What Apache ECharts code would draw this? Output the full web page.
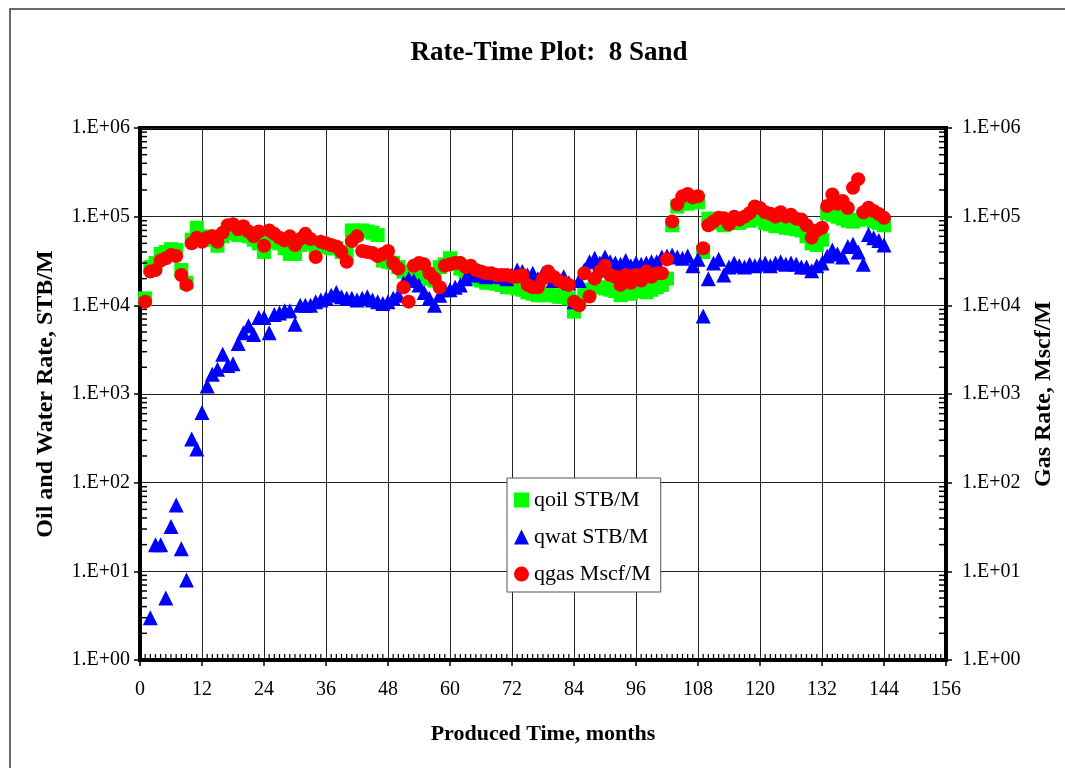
<!DOCTYPE html>
<html>
<head>
<meta charset="utf-8">
<title>Rate-Time Plot: 8 Sand</title>
<script src="https://cdn.jsdelivr.net/npm/echarts@6/dist/echarts.min.js"></script>
<style>
  html, body { margin: 0; padding: 0; background: #fff; }
  #chart { width: 1065px; height: 768px; }
</style>
</head>
<body>
<div id="chart"></div>
<script>
// Monthly production rates, 8 Sand. Index 0 is produced month 1.
const firstMonth = 1;

const qoil = [
  12000, 27000, 30000, 38000, 40000, 43000, 42000, 25000, 18000, 55000, 75000, 55000,
  60000, 55000, 47000, 60000, 72000, 65000, 62000, 66000, 60000, 55000, 50000, 40000,
  52000, 55000, 50000, 44000, 38000, 38000, 48000, 55000, 50000, 45000, 48000, 46000,
  44000, 44000, 40000, 38000, 70000, 64000, 70000, 68000, 66000, 62000, 32000, 31000,
  30000, 27000, 24000, 22000, 24000, 23000, 22000, 20000, 19000, 27000, 29000, 34000,
  30000, 26000, 24000, 22000, 20000, 19000, 18000, 18000, 17500, 17000, 16000, 16000,
  15500, 15000, 14000, 13500, 13000, 13000, 14000, 13000, 12500, 12500, 12000, 8500,
  11000, 13000, 15000, 17000, 16000, 15500, 15000, 14500, 13000, 14000, 13500, 15000,
  14500, 14000, 15000, 16000, 17000, 20000, 80000, 130000, 150000, 140000, 150000, 145000,
  40000, 95000, 90000, 85000, 80000, 90000, 88000, 85000, 95000, 90000, 100000, 95000,
  85000, 82000, 78000, 80000, 75000, 74000, 72000, 70000, 60000, 50000, 48000, 55000,
  110000, 105000, 100000, 95000, 90000, 88000, 92000, 100000, 95000, 88000, 85000, 80000
];

const qwat = [
  null, 3, 20, 20, 5, 32, 56, 18, 8, 310, 240, 620,
  1230, 1670, 1900, 2800, 2100, 2200, 3700, 4900, 5900, 4700, 7300, 7300,
  4900, 7900, 8200, 8700, 8700, 6100, 10000, 10000, 10000, 11000, 11500, 12000,
  13000, 14000, 12500, 12000, 12000, 11500, 12000, 12500, 11500, 11000, 10500, 11000,
  12000, 13000, 18000, 20000, 19000, 17000, 14000, 12000, 10000, 13000, 15000, 15000,
  16000, 17000, 20000, 22000, 23000, 22000, 21000, 21500, 22000, 21000, 20000, 22000,
  25000, 24000, 22000, 23000, 20000, 23000, 22000, 19000, 20000, 21000, 18000, 11000,
  19000, 25000, 31000, 34000, 30000, 35000, 31000, 30000, 29000, 32000, 28000, 30000,
  29000, 30000, 31000, 31000, 35000, 36000, 37000, 35000, 34000, 36000, 28000, 33000,
  7600, 20000, 30000, 33000, 22000, 27000, 30000, 28000, 27000, 29000, 28000, 29000,
  30000, 28000, 30000, 31000, 29000, 30000, 29000, 27000, 27000, 24500, 28000, 30000,
  36000, 42000, 38000, 35000, 46000, 49000, 40000, 29000, 63000, 58000, 54000, 48000
];

const qgas = [
  11000, 24000, 25000, 32000, 34000, 37000, 36000, 22000, 17000, 50000, 58000, 52000,
  58000, 60000, 52000, 66000, 80000, 82000, 72000, 78000, 68000, 60000, 68000, 47000,
  70000, 64000, 58000, 54000, 60000, 48000, 56000, 64000, 56000, 35000, 52000, 50000,
  48000, 46000, 40000, 31000, 53000, 60000, 41000, 40000, 39000, 36000, 38000, 41000,
  30000, 26000, 16000, 11000, 28000, 30000, 29000, 23000, 20000, 16000, 28000, 29000,
  30000, 30000, 27000, 28000, 25000, 24000, 23000, 23000, 22000, 22000, 22000, 21000,
  21000, 22000, 17000, 16000, 16000, 20000, 24000, 21000, 19000, 18000, 17000, 11000,
  10000, 23000, 12600, 20000, 24000, 28000, 22000, 21000, 17000, 22000, 18000, 22000,
  19000, 24000, 21000, 23000, 23000, 33000, 88000, 138000, 170000, 180000, 165000, 170000,
  44000, 80000, 88000, 97000, 96000, 82000, 100000, 93000, 100000, 110000, 130000, 125000,
  112000, 108000, 100000, 112000, 100000, 105000, 95000, 93000, 80000, 58000, 70000, 75000,
  132000, 178000, 140000, 150000, 125000, 212000, 265000, 112000, 126000, 116000, 107000, 97000
];

const seriesNames = ['qoil STB/M', 'qwat STB/M', 'qgas Mscf/M'];
const rateTickLabels = ['1.E+00', '1.E+01', '1.E+02', '1.E+03', '1.E+04', '1.E+05', '1.E+06'];
const monthAxis = { min: 0, max: 156, step: 12 };

const serif = '"Liberation Serif", "Times New Roman", serif';

function toPoints(values) {
  const pts = [];
  values.forEach((v, i) => { if (v != null) pts.push([firstMonth + i, v]); });
  return pts;
}

function rateLabel(v) {
  const e = Math.round(Math.log10(v));
  return rateTickLabels[e] !== undefined ? rateTickLabels[e] : '';
}

// Minor tick marks: log-spaced 2..9 per decade on both rate axes, monthly on the time axis.
const minorTicks = [];
for (let e = 0; e < rateTickLabels.length - 1; e++) {
  for (let k = 2; k <= 9; k++) minorTicks.push([0, k * Math.pow(10, e), 0]);
}
for (let m = monthAxis.min + 1; m < monthAxis.max; m++) {
  if (m % monthAxis.step) minorTicks.push([m, 1, 1]);
}

function rateAxis(name, position, showSplit, labelMargin) {
  return {
    type: 'log',
    logBase: 10,
    min: 1,
    max: 1e6,
    position: position,
    name: name,
    nameLocation: 'middle',
    nameRotate: 90,
    nameGap: 82,
    nameTextStyle: { fontFamily: serif, fontSize: 24, fontWeight: 'bold', color: '#000' },
    axisLine: { show: true, lineStyle: { color: '#000', width: 4 } },
    axisTick: { show: true, length: 6, lineStyle: { color: '#000', width: 1.5 } },
    axisLabel: { formatter: rateLabel, fontFamily: serif, fontSize: 20, color: '#000', margin: labelMargin },
    splitLine: { show: showSplit, lineStyle: { color: '#222', width: 1 } },
    minorTick: { show: false },
    minorSplitLine: { show: false }
  };
}

const chart = echarts.init(document.getElementById('chart'), null, { renderer: 'canvas' });

chart.setOption({
  backgroundColor: '#fff',
  animation: false,
  title: {
    text: 'Rate-Time Plot:  8 Sand',
    left: 544,
    textAlign: 'center',
    top: 35,
    textStyle: { fontFamily: serif, fontSize: 27, fontWeight: 'bold', color: '#000' }
  },
  graphic: [{
    type: 'rect',
    shape: { x: 10, y: 9, width: 1100, height: 800 },
    style: { fill: 'none', stroke: '#3a3a3a', lineWidth: 1.5 },
    silent: true,
    z: -10
  }],
  legend: {
    orient: 'vertical',
    left: 507,
    top: 478,
    padding: [10, 10, 6, 7],
    itemGap: 13,
    itemWidth: 15,
    itemHeight: 15,
    backgroundColor: '#fff',
    borderColor: '#555',
    borderWidth: 1,
    textStyle: { fontFamily: serif, fontSize: 22, color: '#000', lineHeight: 24 },
    data: [
      { name: seriesNames[0], icon: 'rect' },
      { name: seriesNames[1], icon: 'triangle' },
      { name: seriesNames[2], icon: 'circle' }
    ]
  },
  grid: {
    left: 140,
    right: 119,
    top: 128,
    bottom: 108,
    show: true,
    backgroundColor: '#fff',
    borderColor: '#000',
    borderWidth: 4
  },
  xAxis: {
    type: 'value',
    min: monthAxis.min,
    max: monthAxis.max,
    interval: monthAxis.step,
    name: 'Produced Time, months',
    nameLocation: 'middle',
    nameGap: 63,
    nameTextStyle: { fontFamily: serif, fontSize: 22, fontWeight: 'bold', color: '#000' },
    axisLine: { show: true, lineStyle: { color: '#000', width: 4 } },
    axisTick: { show: true, length: 6, lineStyle: { color: '#000', width: 1.5 } },
    axisLabel: { fontFamily: serif, fontSize: 20, color: '#000', margin: 20 },
    splitLine: { show: true, lineStyle: { color: '#222', width: 1 } }
  },
  yAxis: [
    rateAxis('Oil and Water Rate, STB/M', 'left', true, 10),
    rateAxis('Gas Rate, Mscf/M', 'right', false, 16)
  ],
  series: [
    {
      name: seriesNames[0],
      type: 'scatter',
      yAxisIndex: 0,
      symbol: 'rect',
      symbolSize: 14,
      itemStyle: { color: '#00ff00', opacity: 1 },
      data: toPoints(qoil),
      z: 3
    },
    {
      name: seriesNames[1],
      type: 'scatter',
      yAxisIndex: 0,
      symbol: 'triangle',
      symbolSize: [15, 15],
      itemStyle: { color: '#0000ff', opacity: 1 },
      data: toPoints(qwat),
      z: 4
    },
    {
      name: seriesNames[2],
      type: 'scatter',
      yAxisIndex: 1,
      symbol: 'circle',
      symbolSize: 14,
      itemStyle: { color: '#ff0000', opacity: 1 },
      data: toPoints(qgas),
      z: 5
    },
    {
      name: 'minor ticks',
      type: 'custom',
      yAxisIndex: 0,
      silent: true,
      clip: false,
      z: 6,
      encode: { x: 0, y: 1 },
      data: minorTicks,
      renderItem: function (params, api) {
        const cs = params.coordSys;
        const p = api.coord([api.value(0), api.value(1)]);
        const stroke = { stroke: '#000', lineWidth: 1.5 };
        if (api.value(2) === 0) {
          return {
            type: 'group',
            children: [
              { type: 'line', shape: { x1: cs.x, y1: p[1], x2: cs.x + 7, y2: p[1] }, style: stroke },
              { type: 'line', shape: { x1: cs.x + cs.width - 7, y1: p[1], x2: cs.x + cs.width, y2: p[1] }, style: stroke }
            ]
          };
        }
        const yb = cs.y + cs.height;
        return { type: 'line', shape: { x1: p[0], y1: yb, x2: p[0], y2: yb - 6 }, style: { stroke: '#000', lineWidth: 1.2 } };
      }
    }
  ]
});
</script>
</body>
</html>
